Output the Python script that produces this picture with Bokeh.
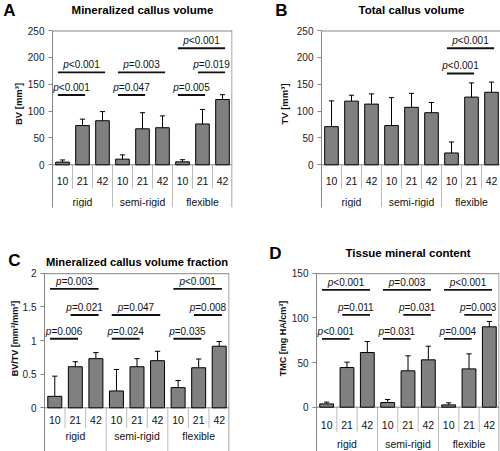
from bokeh.plotting import figure
from bokeh.models import FactorRange, FixedTicker, Range1d, LinearAxis
from bokeh.layouts import column, row
from bokeh.core.properties import value
from bokeh.embed import file_html
from bokeh.resources import INLINE

# ---------------- data ----------------
groups = ["rigid", "semi-rigid", "flexible"]
days = ["10", "21", "42"]

# A: mineralized callus volume BV [mm^3]
bv_mean = [5, 73, 82, 10.5, 67, 69, 5.5, 76, 121.5]
bv_sd = [4, 12, 17, 8, 30, 22, 4, 27, 9]
bv_cmp_group = ["rigid", "rigid", "semi-rigid", "semi-rigid", "flexible", "flexible", "flexible"]
bv_cmp_from = ["10", "10", "10", "10", "10", "21", "10"]
bv_cmp_to = ["42", "21", "42", "21", "42", "42", "21"]
bv_cmp_text = ["<0.001", "<0.001", "=0.003", "=0.047", "<0.001", "=0.019", "=0.005"]
bv_cmp_y = [172, 130, 172, 130, 217, 172, 130]

# B: total callus volume TV [mm^3]
tv_mean = [71, 118.5, 113, 73, 107, 97, 22, 126, 135]
tv_sd = [48, 11, 19, 52, 26, 19, 20.5, 26.5, 19]
tv_cmp_group = ["flexible", "flexible"]
tv_cmp_from = ["10", "10"]
tv_cmp_to = ["42", "21"]
tv_cmp_text = ["<0.001", "<0.001"]
tv_cmp_y = [217, 170]

# C: BV/TV
bvtv_mean = [0.17, 0.61, 0.73, 0.25, 0.61, 0.70, 0.30, 0.595, 0.915]
bvtv_sd = [0.30, 0.075, 0.09, 0.32, 0.12, 0.14, 0.105, 0.13, 0.07]
bvtv_cmp_group = ["rigid", "rigid", "rigid", "semi-rigid", "semi-rigid", "flexible", "flexible", "flexible"]
bvtv_cmp_from = ["10", "21", "10", "10", "10", "10", "21", "10"]
bvtv_cmp_to = ["42", "42", "21", "42", "21", "42", "42", "21"]
bvtv_cmp_text = ["=0.003", "=0.021", "=0.006", "=0.047", "=0.024", "<0.001", "=0.008", "=0.035"]
bvtv_cmp_y = [1.767, 1.38, 1.025, 1.38, 1.025, 1.767, 1.38, 1.025]

# D: tissue mineral content TMC [mg HA/cm^3]
tmc_mean = [3.7, 44.4, 61.2, 5.2, 40.7, 53, 2.6, 42.9, 90]
tmc_sd = [2, 6, 12.3, 3.4, 16.8, 15.3, 2.3, 16.8, 6]
tmc_cmp_group = ["rigid", "rigid", "rigid", "semi-rigid", "semi-rigid", "semi-rigid", "flexible", "flexible", "flexible"]
tmc_cmp_from = ["10", "21", "10", "10", "21", "10", "10", "21", "10"]
tmc_cmp_to = ["42", "42", "21", "42", "42", "21", "42", "42", "21"]
tmc_cmp_text = ["<0.001", "=0.011", "<0.001", "=0.003", "=0.031", "=0.031", "<0.001", "=0.003", "=0.004"]
tmc_cmp_y = [131.3, 103.4, 76.5, 131.3, 103.4, 76.5, 131.3, 103.4, 76.5]

ticks_bv = [0, 50, 100, 150, 200, 250]
ticks_tv = [0, 50, 100, 150, 200, 250]
ticks_bvtv = [0, 0.5, 1, 1.5, 2]
tick_labels_bvtv = ["0", "0.5", "1", "1.5", "2"]
ticks_tmc = [0, 50, 100, 150]

# ---------------- style / layout ----------------
FONT = "Liberation Sans"
BAR = "#808080"
BOX = "#868686"
SEP = "#bdbdbd"
TXT = "#111111"
CW = {"p": 0.556, "<": 0.584, "=": 0.584, ".": 0.278}
PFS = 10.0  # p-label font size px


def tw(s):
    return sum(CW.get(c, 0.556) for c in s) * PFS


def make_panel(letter, title, ylabel, ticks, tick_labels, means, sds, cg, cf, ct, ctext, cy, geo):
    ymax = ticks[-1]
    L, R = round(geo["L"]), round(geo["R"])
    T = geo["T"]
    Bt = round(geo["B"])
    fz = geo["Z"]
    upp = ymax / (fz - T)  # data units per pixel
    ymin = -(Bt - fz) * upp
    ytop = ymax + T * upp

    factors = [(g, d) for g in groups for d in days]
    p = figure(frame_width=R - L, frame_height=Bt,
               x_range=FactorRange(factors=factors, factor_padding=0, group_padding=0,
                                   subgroup_padding=0, range_padding=0),
               y_range=Range1d(ymin, ytop), x_axis_location=None, y_axis_location="left",
               toolbar_location=None, output_backend="svg", title=None,
               min_border_left=L, min_border_right=geo["W"] - R,
               min_border_top=0, min_border_bottom=geo["H"] - Bt,
               background_fill_color="white", border_fill_color="white")
    p.outline_line_color = None
    p.grid.visible = False

    ax = p.yaxis[0]
    ax.ticker = FixedTicker(ticks=ticks, minor_ticks=[])
    ax.bounds = (ymin, ymax)
    ax.major_label_overrides = {t: l for t, l in zip(ticks, tick_labels)}
    ax.axis_line_color = BOX
    ax.major_tick_line_color = BOX
    ax.minor_tick_line_color = None
    ax.major_tick_out = 4
    ax.major_tick_in = 0
    ax.major_label_standoff = 4
    ax.major_label_text_font = FONT
    ax.major_label_text_font_size = "10px"
    ax.major_label_text_color = "#222222"
    ax.axis_label = ylabel
    ax.axis_label_text_font = FONT
    ax.axis_label_text_font_size = geo["ylab_fs"]
    ax.axis_label_text_font_style = "bold"
    ax.axis_label_text_color = TXT
    ax.axis_label_standoff = geo["ylab_standoff"]

    # panel letter: tick label of an outer, otherwise invisible axis
    ly = ymax + (T - geo["letter_y"]) * upp
    lax = LinearAxis(ticker=FixedTicker(ticks=[ly], minor_ticks=[]),
                     major_label_overrides={ly: letter},
                     axis_line_color=None, major_tick_line_color=None,
                     minor_tick_line_color=None, major_tick_out=0, major_tick_in=0,
                     major_label_standoff=geo["letter_standoff"],
                     major_label_text_font=FONT, major_label_text_font_size="17px",
                     major_label_text_font_style="bold", major_label_text_color="black")
    p.add_layout(lax, "left")

    # title inside the frame, above the plot box
    p.text(x=[("semi-rigid", "21", geo["title_dx"])], y=[ymax + (T - geo["title_y"]) * upp],
           text=[title], text_font=value(FONT), text_font_size=geo["title_fs"],
           text_font_style="bold", text_align="center", text_baseline="middle", text_color="black")

    # plot box (top, right), zero line
    half = 0.5 * upp
    p.segment(x0=[("rigid", "10", -0.5)], y0=[ymax - half], x1=[("flexible", "42", 0.475)],
              y1=[ymax - half], line_color=BOX, line_width=1)
    p.segment(x0=[("flexible", "42", 0.475)], y0=[ymax], x1=[("flexible", "42", 0.475)],
              y1=[ymin], line_color=BOX, line_width=1)

    # category separators
    inner_x = [(g, d, -0.5) for g in groups for d in days[1:]]
    p.segment(x0=inner_x, y0=[0] * len(inner_x), x1=inner_x,
              y1=[-geo["inner_dy"] * upp] * len(inner_x), line_color=SEP, line_width=1)
    grp_x = [(g, "10", -0.5) for g in groups[1:]]
    p.segment(x0=grp_x, y0=[0] * len(grp_x), x1=grp_x, y1=[ymin] * len(grp_x),
              line_color=SEP, line_width=1)
    p.segment(x0=[("rigid", "10", -0.5)], y0=[0], x1=[("flexible", "42", 0.5)], y1=[0],
              line_color=BOX, line_width=1)

    # bars + error bars
    p.vbar(x=factors, top=means, width=0.68, fill_color=BAR, line_color="black", line_width=1)
    tops = [m + s for m, s in zip(means, sds)]
    p.segment(x0=factors, y0=means, x1=factors, y1=tops, line_color="black", line_width=1)
    p.segment(x0=[(g, d, -0.13) for g, d in factors], y0=tops,
              x1=[(g, d, 0.13) for g, d in factors], y1=tops, line_color="black", line_width=1)

    # category labels
    p.text(x=factors, y=[-geo["lab_dy"] * upp] * len(factors), text=[d for g, d in factors],
           text_font=value(FONT), text_font_size="10.5px", text_align="center",
           text_baseline="middle", text_color=TXT)
    p.text(x=[(g, "21") for g in groups], y=[-geo["grp_dy"] * upp] * 3, text=groups,
           text_font=value(FONT), text_font_size="10.5px", text_align="center",
           text_baseline="middle", text_color=TXT)

    # significance brackets
    s0, s1 = -0.23, 0.13
    x0 = [(g, a, s0) for g, a in zip(cg, cf)]
    x1 = [(g, b, s1) for g, b in zip(cg, ct)]
    p.segment(x0=x0, y0=cy, x1=x1, y1=cy, line_color=TXT, line_width=1.9)
    mid = [(g, a, (days.index(b) - days.index(a) + s0 + s1) / 2) for g, a, b in zip(cg, cf, ct)]
    widths = [tw("p" + s) for s in ctext]
    p.text(x=mid, y=cy, text=["p"] * len(cg), x_offset=[-w / 2 for w in widths], y_offset=-2,
           text_font=value(FONT), text_font_size="10px", text_font_style="italic",
           text_align="left", text_baseline="bottom", text_color=TXT)
    p.text(x=mid, y=cy, text=ctext, x_offset=[-w / 2 + tw("p") for w in widths], y_offset=-2,
           text_font=value(FONT), text_font_size="10px",
           text_align="left", text_baseline="bottom", text_color=TXT)
    return p


# geometry in pixels, relative to each panel's top-left corner
geoA = dict(L=49, R=229, T=30, Z=164.3, B=207, W=250, H=225,
            lab_dy=16, inner_dy=24, grp_dy=37.5, letter_y=9.5, title_y=9.3, title_dx=0,
            title_fs="11.5px", ylab_standoff=1, ylab_fs="9.5px", letter_standoff=-6)
geoB = dict(L=68, R=247.5, T=30, Z=164.3, B=207, W=250, H=225,
            lab_dy=16, inner_dy=24, grp_dy=37.5, letter_y=9.5, title_y=9.3, title_dx=0,
            title_fs="11.5px", ylab_standoff=4, ylab_fs="9.5px", letter_standoff=-12)
geoC = dict(L=44, R=229, T=47.7, Z=182.3, B=226, W=250, H=226,
            lab_dy=12, inner_dy=20, grp_dy=28.5, letter_y=35, title_y=36, title_dx=0,
            title_fs="11.2px", ylab_standoff=0, ylab_fs="9px", letter_standoff=-14)
geoD = dict(L=66, R=248.7, T=47.7, Z=181.7, B=226, W=250, H=226,
            lab_dy=17.5, inner_dy=25, grp_dy=36.5, letter_y=28, title_y=27.5, title_dx=0,
            title_fs="11.5px", ylab_standoff=1, ylab_fs="9px", letter_standoff=-7)

pA = make_panel("A", "Mineralized callus volume", "BV [mm³]", ticks_bv,
                [str(t) for t in ticks_bv], bv_mean, bv_sd,
                bv_cmp_group, bv_cmp_from, bv_cmp_to, bv_cmp_text, bv_cmp_y, geoA)
pB = make_panel("B", "Total callus volume", "TV [mm³]", ticks_tv,
                [str(t) for t in ticks_tv], tv_mean, tv_sd,
                tv_cmp_group, tv_cmp_from, tv_cmp_to, tv_cmp_text, tv_cmp_y, geoB)
pC = make_panel("C", "Mineralized callus volume fraction", "BV/TV [mm³/mm³]", ticks_bvtv,
                tick_labels_bvtv, bvtv_mean, bvtv_sd,
                bvtv_cmp_group, bvtv_cmp_from, bvtv_cmp_to, bvtv_cmp_text, bvtv_cmp_y, geoC)
pD = make_panel("D", "Tissue mineral content", "TMC [mg HA/cm³]", ticks_tmc,
                [str(t) for t in ticks_tmc], tmc_mean, tmc_sd,
                tmc_cmp_group, tmc_cmp_from, tmc_cmp_to, tmc_cmp_text, tmc_cmp_y, geoD)

layout = column(row(pA, pB), row(pC, pD))
open("out.html", "w").write(file_html(layout, INLINE))
